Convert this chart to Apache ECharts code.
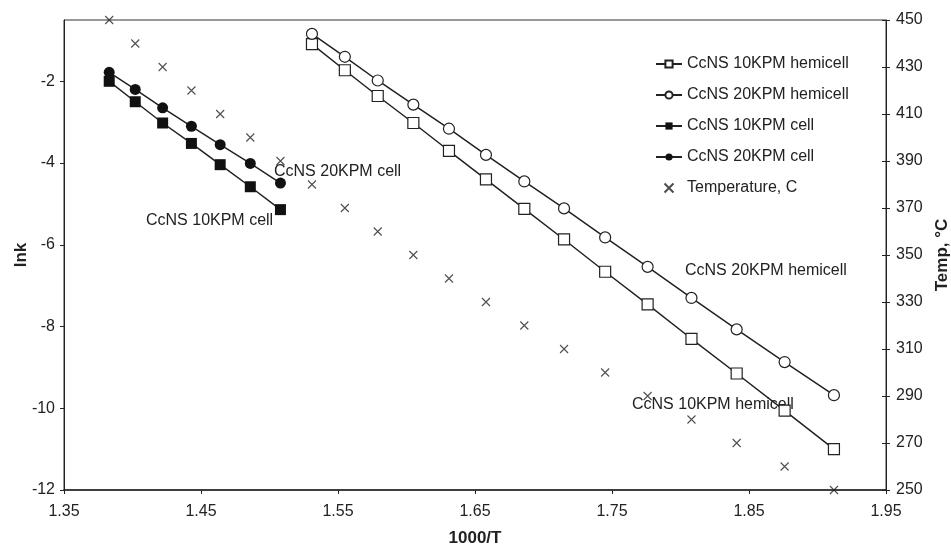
<!DOCTYPE html>
<html><head><meta charset="utf-8">
<script src="https://cdn.jsdelivr.net/npm/echarts@6/dist/echarts.min.js"></script>
<style>html,body{margin:0;padding:0;background:#fff}#c{width:951px;height:550px}</style>
</head><body><div id="c"></div>
<script>
// 1000/T values
var cellX = [1.383, 1.402, 1.422, 1.443, 1.464, 1.486, 1.508];
var hemiX = [1.531, 1.555, 1.579, 1.605, 1.631, 1.658, 1.686, 1.715, 1.745, 1.776, 1.808, 1.841, 1.876, 1.912];
// lnk values
var hemi10 = [-1.09, -1.73, -2.36, -3.02, -3.70, -4.40, -5.12, -5.87, -6.66, -7.46, -8.30, -9.15, -10.06, -11.00];
var hemi20 = [-0.84, -1.40, -1.98, -2.57, -3.16, -3.80, -4.45, -5.11, -5.82, -6.54, -7.30, -8.07, -8.87, -9.68];
var cell10 = [-2.00, -2.50, -3.02, -3.52, -4.04, -4.58, -5.14];
var cell20 = [-1.78, -2.20, -2.65, -3.10, -3.55, -4.01, -4.49];
// temperature, C
var tempC = [450, 440, 430, 420, 410, 400, 390, 380, 370, 360, 350, 340, 330, 320, 310, 300, 290, 280, 270, 260, 250];
var tempX = cellX.concat(hemiX);
var seriesNames = ['CcNS 10KPM hemicell', 'CcNS 20KPM hemicell', 'CcNS 10KPM cell', 'CcNS 20KPM cell', 'Temperature, C'];

function pairs(xs, ys) { return xs.map(function (x, i) { return [x, ys[i]]; }); }

var FONT = 'Liberation Sans';
var INK = '#222';
var crossPath = 'path://M0,0L10,10M10,0L0,10';

var chart = echarts.init(document.getElementById('c'), null, {renderer: 'canvas'});
chart.setOption({
  animation: false,
  backgroundColor: '#fff',
  textStyle: {fontFamily: FONT, color: INK},
  grid: {left: 64, right: 65, top: 20, bottom: 60, containLabel: false, outerBoundsMode: 'none',
         show: true, borderColor: '#333', borderWidth: 1, backgroundColor: 'transparent'},
  legend: {
    orient: 'vertical', left: 650, top: 51, itemWidth: 26, itemHeight: 9, itemGap: 15,
    textStyle: {fontFamily: FONT, fontSize: 16, color: INK, lineHeight: 14},
    data: seriesNames
  },
  xAxis: {
    type: 'value', min: 1.35, max: 1.95, interval: 0.1,
    name: '1000/T', nameLocation: 'middle', nameGap: 40, nameMoveOverlap: false,
    nameTextStyle: {fontFamily: FONT, fontSize: 17, fontWeight: 'bold', color: INK},
    axisLine: {lineStyle: {color: '#222', width: 1.5}},
    axisTick: {show: true, inside: false, length: 4, lineStyle: {color: '#222'}},
    splitLine: {show: false},
    axisLabel: {fontFamily: FONT, fontSize: 16, color: INK, margin: 14, formatter: function (v) { return v.toFixed(2); }}
  },
  yAxis: [{
    type: 'value', min: -12, max: -0.5, interval: 2, position: 'left',
    name: 'lnk', nameLocation: 'middle', nameGap: 34, nameRotate: 90, nameMoveOverlap: false,
    nameTextStyle: {fontFamily: FONT, fontSize: 17, fontWeight: 'bold', color: INK},
    axisLine: {show: true, lineStyle: {color: '#222', width: 1}},
    axisTick: {show: true, inside: false, length: 4, lineStyle: {color: '#222'}},
    splitLine: {show: false},
    axisLabel: {fontFamily: FONT, fontSize: 16, color: INK, margin: 9, showMaxLabel: false}
  }, {
    type: 'value', min: 250, max: 450, interval: 20, position: 'right',
    name: 'Temp, °C', nameLocation: 'middle', nameGap: 48, nameRotate: 90, nameMoveOverlap: false,
    nameTextStyle: {fontFamily: FONT, fontSize: 17, fontWeight: 'bold', color: INK},
    axisLine: {show: true, lineStyle: {color: '#222', width: 1}},
    axisTick: {show: true, inside: false, length: 4, lineStyle: {color: '#222'}},
    splitLine: {show: false},
    axisLabel: {fontFamily: FONT, fontSize: 16, color: INK, margin: 10}
  }, {
    type: 'value', min: 250, max: 450, interval: 20, position: 'right',
    axisLine: {show: false},
    axisTick: {show: true, inside: true, length: 4, lineStyle: {color: '#222'}},
    splitLine: {show: false},
    axisLabel: {show: false}
  }],
  series: [{
    name: seriesNames[0], type: 'line', data: pairs(hemiX, hemi10),
    symbol: 'rect', symbolSize: 11, z: 3,
    lineStyle: {color: '#222', width: 1.5},
    itemStyle: {color: '#fff', borderColor: '#222', borderWidth: 1.2}
  }, {
    name: seriesNames[1], type: 'line', data: pairs(hemiX, hemi20),
    symbol: 'circle', symbolSize: 11, z: 3,
    lineStyle: {color: '#222', width: 1.5},
    itemStyle: {color: '#fff', borderColor: '#222', borderWidth: 1.2}
  }, {
    name: seriesNames[2], type: 'line', data: pairs(cellX, cell10),
    symbol: 'rect', symbolSize: 11, z: 3,
    lineStyle: {color: '#222', width: 1.5},
    itemStyle: {color: '#111', borderColor: '#111', borderWidth: 0}
  }, {
    name: seriesNames[3], type: 'line', data: pairs(cellX, cell20),
    symbol: 'circle', symbolSize: 11, z: 3,
    lineStyle: {color: '#222', width: 1.5},
    itemStyle: {color: '#111', borderColor: '#111', borderWidth: 0}
  }, {
    name: seriesNames[4], type: 'scatter', yAxisIndex: 1, data: pairs(tempX, tempC),
    symbol: crossPath, symbolSize: 8, z: 2,
    itemStyle: {color: 'transparent', borderColor: '#222', borderWidth: 1.1}
  }],
  graphic: [
    {type: 'text', left: 274, top: 164, style: {text: 'CcNS 20KPM cell', font: '16px "Liberation Sans"', fill: INK}},
    {type: 'text', left: 146, top: 213, style: {text: 'CcNS 10KPM cell', font: '16px "Liberation Sans"', fill: INK}},
    {type: 'text', left: 685, top: 263, style: {text: 'CcNS 20KPM hemicell', font: '16px "Liberation Sans"', fill: INK}},
    {type: 'text', left: 632, top: 397, style: {text: 'CcNS 10KPM hemicell', font: '16px "Liberation Sans"', fill: INK}}
  ]
});
</script></body></html>
